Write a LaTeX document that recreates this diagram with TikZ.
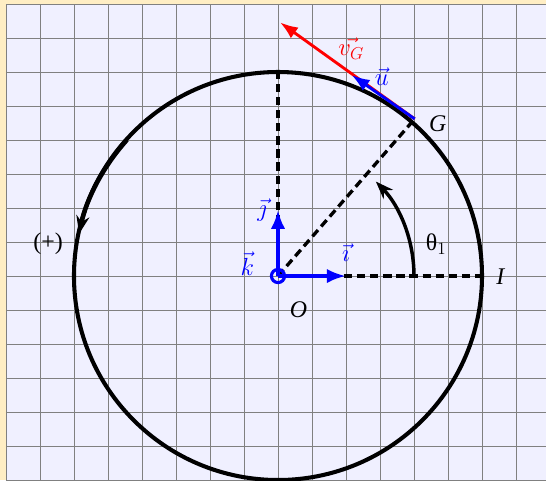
\documentclass[tikz,border=0pt]{standalone}
\usepackage{fontspec}
\setmainfont{Liberation Serif}
\usepackage{tikz}
\usetikzlibrary{arrows.meta}
\definecolor{paper}{RGB}{255,238,196}
\definecolor{sheet}{RGB}{240,240,255}

\begin{document}
\begin{tikzpicture}[
  font=\fontsize{20}{24}\selectfont,
  gridline/.style={gray, line width=0.8pt},
  rim/.style={line width=3.4pt},
  dashline/.style={line width=2.8pt, dash pattern=on 7pt off 4pt},
  turn/.style={-{Stealth[length=15pt,width=11pt]}, line width=2.9pt},
  base/.style={-{Latex[length=16pt,width=12pt]}, blue, line width=3.2pt},
  tangent/.style={-{Latex[length=15pt,width=11pt]}, line width=2.4pt}
]
\useasboundingbox (-8.176,-6) rectangle (7.882,8.118);
\fill[paper] (-8.176,-6) rectangle (7.882,8.118);
\fill[sheet] (-8,-6) rectangle (7.882,8);
\draw[gridline] (-8,-6) grid (7.882,8);

\coordinate (O) at (0,0);
\coordinate (I) at (6,0);
\coordinate (top) at (0,6);
\coordinate (G) at (4.02,4.62);
\coordinate (itip) at (2,0);
\coordinate (jtip) at (0,1.95);
\coordinate (utip) at (2.17,5.91);
\coordinate (vtip) at (0.06,7.46);

\draw[rim] (O) circle (6);
\draw[dashline] (O) -- (I);
\draw[dashline] (O) -- (top);
\draw[dashline] (O) -- (G);
\draw[turn] (4,0) arc[start angle=0, end angle=44, radius=4];
\draw[turn, line width=3.8pt] (138:5.98) arc[start angle=138, end angle=168, radius=5.98];

\draw[tangent, red] (G) -- (vtip);
\draw[tangent, blue] (G) -- (utip);
\draw[base] (O) -- (itip);
\draw[base] (O) -- (jtip);
\draw[blue, line width=2.6pt] (O) circle (5.5pt);

\node[blue] (labi) at (2.0,0.68) {$\vec{\imath}$};
\node[blue] (labj) at (-0.47,1.94) {$\vec{\jmath}$};
\node[blue] (labk) at (-0.9,0.36) {$\vec{k}$};
\node[blue] (labu) at (3.05,5.85) {$\vec{u}$};
\node[red] (labv) at (2.15,6.68) {$\vec{v_G}$};
\node (labO) at (0.6,-1.0) {\textit{O}};
\node (labI) at (6.55,-0.03) {\textit{I}};
\node (labG) at (4.7,4.47) {\textit{G}};
\node (labth) at (4.65,0.93) {θ$_1$};
\node (labplus) at (-6.76,0.94) {(+)};
\end{tikzpicture}
\end{document}
